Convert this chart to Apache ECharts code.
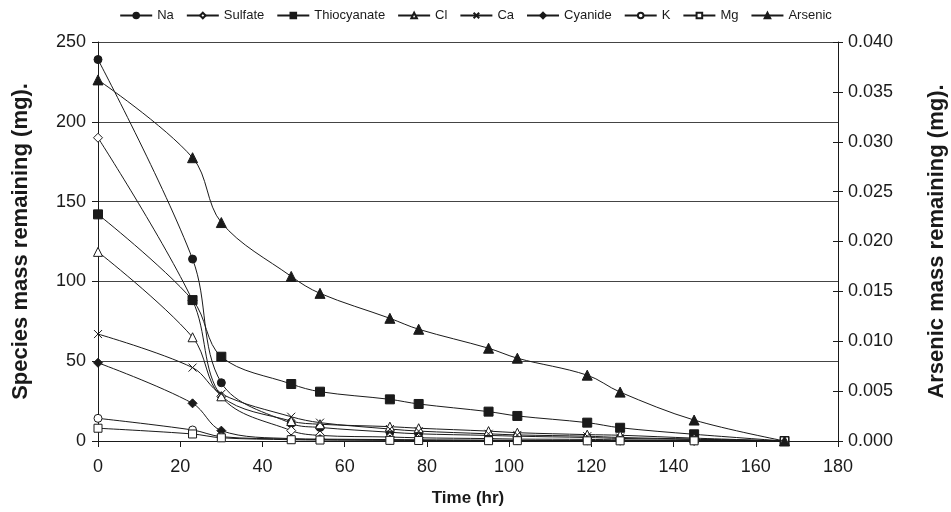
<!DOCTYPE html>
<html>
<head>
<meta charset="utf-8">
<script src="https://cdn.jsdelivr.net/npm/echarts@6/dist/echarts.min.js"></script>
<style>
  html, body { margin: 0; padding: 0; background: #fff; }
  #chart { width: 951px; height: 512px; }
</style>
</head>
<body>
<div id="chart"></div>
<script>
// Sampling times (hr)
const times = [0, 23, 30, 47, 54, 71, 78, 95, 102, 119, 127, 145, 167];

// Species mass remaining (mg)
const na          = [239, 114, 36.5, 11, 8.5, 5.5, 4.5, 3.5, 3, 2.2, 1.6, 1, 0];
const sulfate     = [190, 88, 28, 6.5, 3.5, 2.5, 2, 1.5, 1.2, 1, 0.7, 0.4, 0];
const thiocyanate = [142, 88.3, 52.8, 35.7, 30.9, 26.1, 23.2, 18.4, 15.7, 11.5, 8.3, 4.2, 0];
const cl          = [118.5, 65, 28, 12.5, 10.5, 9, 8, 6.2, 5.2, 4, 3.6, 1.8, 0];
const ca          = [67, 46, 29.5, 15.2, 11.5, 7.5, 6.2, 4.5, 3.8, 3, 2.2, 1.2, 0];
const cyanide     = [49, 23.6, 6.5, 1.5, 1.2, 0.9, 0.7, 0.5, 0.4, 0.3, 0.2, 0.1, 0];
const k           = [14.2, 6.9, 2.7, 1.2, 0.9, 0.6, 0.5, 0.4, 0.3, 0.2, 0.2, 0.1, 0];
const mg          = [8, 4.4, 2, 0.8, 0.6, 0.4, 0.3, 0.2, 0.2, 0.1, 0.1, 0.1, 0];

// Arsenic mass remaining (mg), right axis
const arsenic     = [0.0362, 0.0284, 0.0219, 0.0165, 0.0148, 0.0123, 0.0112, 0.0093, 0.0083, 0.0066, 0.0049, 0.0021, 0];

// Axis ticks
const leftTicks  = { min: 0, max: 250, interval: 50 };
const rightTicks = { min: 0, max: 0.04, interval: 0.005 };
const timeTicks  = { min: 0, max: 180, interval: 20 };

const INK = '#1a1a1a';
const FONT = '"Liberation Sans", Arial, sans-serif';

const crossPath = 'path://M0,0L10,10M10,0L0,10';

function pairs(vals) {
  return times.map((t, i) => [t, vals[i]]);
}

function series(name, vals, symbol, filled, size, yAxisIndex) {
  return {
    name: name,
    type: 'line',
    yAxisIndex: yAxisIndex || 0,
    data: pairs(vals),
    smooth: 0.35,
    symbol: symbol,
    symbolSize: size,
    showAllSymbol: true,
    lineStyle: { color: INK, width: 1 },
    itemStyle: {
      color: filled ? INK : '#ffffff',
      borderColor: INK,
      borderWidth: 1
    },
    emphasis: { disabled: true },
    z: yAxisIndex ? 3 : 2
  };
}

const chart = echarts.init(document.getElementById('chart'), null, { renderer: 'canvas' });

const tickFont = { fontFamily: FONT, fontSize: 18, color: INK };
const titleFont = { fontFamily: FONT, fontSize: 22, fontWeight: 'bold', color: INK };

chart.setOption({
  animation: false,
  backgroundColor: '#ffffff',
  textStyle: { fontFamily: FONT, color: INK },
  legend: {
    top: 4,
    left: 'center',
    itemWidth: 32,
    itemHeight: 7,
    itemGap: 12,
    textStyle: { fontFamily: FONT, fontSize: 13, color: INK },
    data: ['Na', 'Sulfate', 'Thiocyanate', 'Cl', 'Ca', 'Cyanide', 'K', 'Mg', 'Arsenic']
  },
  grid: {
    left: 98, right: 113, top: 42, bottom: 71,
    containLabel: false,
    outerBoundsMode: 'none'
  },
  xAxis: {
    type: 'value',
    min: timeTicks.min,
    max: timeTicks.max,
    interval: timeTicks.interval,
    name: 'Time (hr)',
    nameLocation: 'middle',
    nameGap: 49,
    nameTextStyle: { fontFamily: FONT, fontSize: 17, fontWeight: 'bold', color: INK },
    axisLine: { show: true, onZero: false, lineStyle: { color: INK, width: 1 } },
    axisTick: { show: true, inside: false, length: 6, lineStyle: { color: INK } },
    axisLabel: Object.assign({ margin: 17 }, tickFont),
    splitLine: { show: false }
  },
  yAxis: [
    {
      type: 'value',
      position: 'left',
      min: leftTicks.min,
      max: leftTicks.max,
      interval: leftTicks.interval,
      name: 'Species mass remaining (mg).',
      nameLocation: 'middle',
      nameGap: 66,
      nameRotate: 90,
      nameTextStyle: titleFont,
      axisLine: { show: true, lineStyle: { color: INK, width: 1 } },
      axisTick: { show: true, inside: false, length: 6, lineStyle: { color: INK } },
      axisLabel: Object.assign({ margin: 12 }, tickFont),
      splitLine: { show: true, lineStyle: { color: '#444', width: 1 } }
    },
    {
      type: 'value',
      position: 'right',
      min: rightTicks.min,
      max: rightTicks.max,
      interval: rightTicks.interval,
      name: 'Arsenic mass remaining (mg).',
      nameLocation: 'middle',
      nameGap: 88,
      nameRotate: 90,
      nameTextStyle: titleFont,
      axisLine: { show: true, lineStyle: { color: INK, width: 1 } },
      axisTick: { show: true, inside: false, length: 5, lineStyle: { color: INK } },
      axisLabel: Object.assign({ margin: 10, formatter: v => v.toFixed(3) }, tickFont),
      splitLine: { show: false }
    },
    {
      // inner half of the right-hand cross ticks
      type: 'value',
      position: 'right',
      min: rightTicks.min,
      max: rightTicks.max,
      interval: rightTicks.interval,
      axisLine: { show: false },
      axisTick: { show: true, inside: true, length: 5, lineStyle: { color: INK } },
      axisLabel: { show: false },
      splitLine: { show: false }
    }
  ],
  series: [
    series('Na', na, 'circle', true, 8),
    series('Sulfate', sulfate, 'diamond', false, 9),
    series('Thiocyanate', thiocyanate, 'rect', true, 9),
    series('Cl', cl, 'triangle', false, 9),
    series('Ca', ca, crossPath, false, 8),
    series('Cyanide', cyanide, 'diamond', true, 9),
    series('K', k, 'circle', false, 8),
    series('Mg', mg, 'rect', false, 8),
    series('Arsenic', arsenic, 'triangle', true, 10, 1)
  ]
});
</script>
</body>
</html>
